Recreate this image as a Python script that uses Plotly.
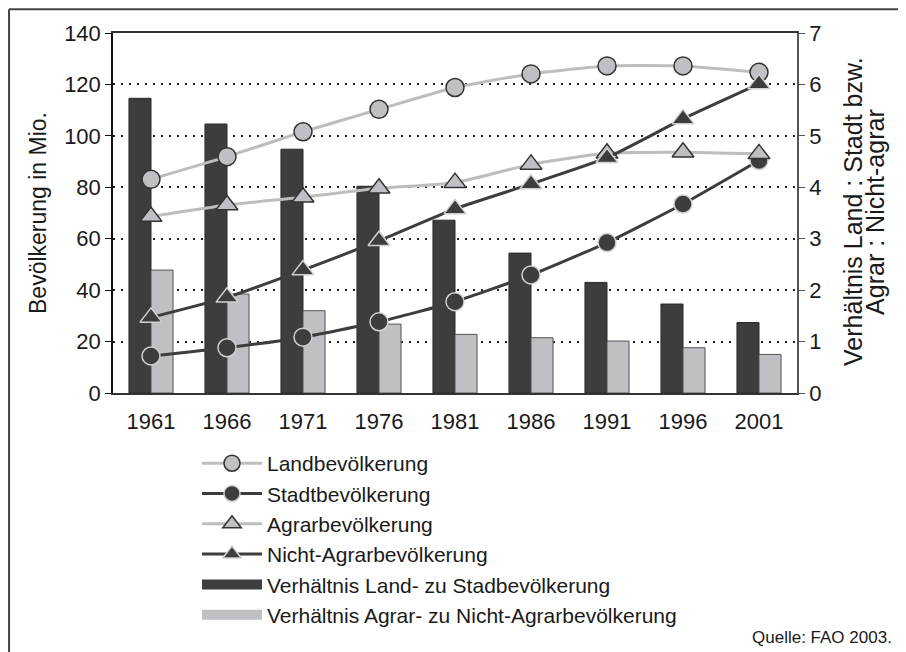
import plotly.graph_objects as go

years = ["1961", "1966", "1971", "1976", "1981", "1986", "1991", "1996", "2001"]

land = [83.1, 91.9, 101.6, 110.3, 118.8, 124.1, 127.2, 127.2, 124.7]
stadt = [14.4, 17.6, 21.7, 27.7, 35.5, 45.9, 58.5, 73.5, 90.4]
agrar = [68.6, 73.1, 76.1, 79.6, 81.8, 88.9, 93.2, 93.6, 93.0]
nicht_agrar = [29.4, 37.2, 47.8, 59.2, 71.6, 81.3, 91.5, 106.6, 120.2]

ratio_land_stadt = [5.73, 5.23, 4.74, 4.02, 3.36, 2.72, 2.15, 1.73, 1.37]
ratio_agrar_nicht = [2.39, 1.925, 1.60, 1.34, 1.14, 1.075, 1.01, 0.88, 0.75]

left_ticks = [0, 20, 40, 60, 80, 100, 120, 140]
right_ticks = [0, 1, 2, 3, 4, 5, 6, 7]

DARK = "#3d3d3d"
LIGHT = "#bfc0c4"
LIGHT_LINE = "#bdbdbd"
FONT = "Liberation Sans, Arial, sans-serif"

fig = go.Figure()

# Bars on the main (right) axis
fig.add_trace(go.Bar(
    x=years, y=ratio_land_stadt, name="Verhältnis Land- zu Stadbevölkerung",
    marker=dict(color=DARK, line=dict(color="#2a2a2a", width=1)),
    yaxis="y", showlegend=False, legendgroup="b1"))
fig.add_trace(go.Bar(
    x=years, y=ratio_agrar_nicht, name="Verhältnis Agrar- zu Nicht-Agrarbevölkerung",
    marker=dict(color=LIGHT, line=dict(color="#555555", width=1)),
    yaxis="y", showlegend=False, legendgroup="b2"))

# Lines on the overlaying (left) axis
fig.add_trace(go.Scatter(
    x=years, y=land, name="Landbevölkerung", mode="lines+markers",
    line=dict(color=LIGHT_LINE, width=3, shape="spline", smoothing=0.5),
    marker=dict(symbol="circle", size=18, color=LIGHT, line=dict(color="#333333", width=1.5)),
    yaxis="y2", legendrank=1))
fig.add_trace(go.Scatter(
    x=years, y=stadt, name="Stadtbevölkerung", mode="lines+markers",
    line=dict(color=DARK, width=3, shape="spline", smoothing=0.5),
    marker=dict(symbol="circle", size=18, color=DARK, line=dict(color="#d0d0d0", width=1.5)),
    yaxis="y2", legendrank=2))
fig.add_trace(go.Scatter(
    x=years, y=agrar, name="Agrarbevölkerung", mode="lines+markers",
    line=dict(color=LIGHT_LINE, width=3, shape="spline", smoothing=0.5),
    marker=dict(symbol="triangle-up", size=19, color=LIGHT, line=dict(color="#333333", width=1.5)),
    yaxis="y2", legendrank=3))
fig.add_trace(go.Scatter(
    x=years, y=nicht_agrar, name="Nicht-Agrarbevölkerung", mode="lines+markers",
    line=dict(color=DARK, width=3, shape="spline", smoothing=0.5),
    marker=dict(symbol="triangle-up", size=19, color=DARK, line=dict(color="#d0d0d0", width=1.5)),
    yaxis="y2", legendrank=4))

# Legend entries for the bars (wide rectangles)
fig.add_trace(go.Scatter(
    x=[None], y=[None], name="Verhältnis Land- zu Stadbevölkerung", mode="lines",
    line=dict(color=DARK, width=15), yaxis="y2", legendgroup="b1", legendrank=5))
fig.add_trace(go.Scatter(
    x=[None], y=[None], name="Verhältnis Agrar- zu Nicht-Agrarbevölkerung", mode="lines",
    line=dict(color=LIGHT, width=15), yaxis="y2", legendgroup="b2", legendrank=6))

fig.update_layout(
    width=898, height=644,
    margin=dict(l=105, r=109, t=25, b=259),
    paper_bgcolor="white", plot_bgcolor="white",
    font=dict(family=FONT, size=22, color="#1a1a1a"),
    barmode="group", bargap=0.42, bargroupgap=0,
    xaxis=dict(
        type="category", range=[-0.5, 8.5], showline=True, linecolor="#333333",
        linewidth=1.5, mirror=True, ticks="", showgrid=False, tickfont=dict(size=22),
        ticklabelstandoff=8),
    yaxis=dict(
        side="right", range=[0, 7], tickvals=right_ticks, showline=True,
        linecolor="#555555", linewidth=1.5, ticks="outside", ticklen=6,
        tickcolor="#555555", showgrid=True, gridcolor="#222222", gridwidth=1.5,
        griddash="2px,6px", zeroline=False, tickfont=dict(size=22)),
    yaxis2=dict(
        overlaying="y", side="left", range=[0, 140], tickvals=left_ticks,
        showline=True, linecolor="#111111", linewidth=1.5, ticks="outside",
        ticklen=6, tickcolor="#111111", showgrid=False, zeroline=False,
        tickfont=dict(size=22),
        title=dict(text="Bevölkerung in Mio.", font=dict(size=23), standoff=11)),
    legend=dict(
        x=0.1228, y=-0.139, xanchor="left", yanchor="top",
        font=dict(size=21), itemwidth=60, tracegroupgap=0,
        bgcolor="rgba(0,0,0,0)"),
    shapes=[
        dict(type="line", xref="paper", yref="paper",
             x0=-0.152, x1=-0.152, y0=1.066, y1=-0.8, line=dict(color="#444444", width=2)),
        dict(type="line", xref="paper", yref="paper",
             x0=-0.152, x1=1.2, y0=1.066, y1=1.066, line=dict(color="#444444", width=2)),
    ],
    annotations=[
        dict(text="Verhältnis Land : Stadt bzw.", xref="paper", yref="paper",
             x=1.0819, y=0.503, xanchor="center", yanchor="middle", textangle=-90,
             showarrow=False, font=dict(size=25, color="#1a1a1a")),
        dict(text="Agrar : Nicht-agrar", xref="paper", yref="paper",
             x=1.114, y=0.503, xanchor="center", yanchor="middle", textangle=-90,
             showarrow=False, font=dict(size=25, color="#1a1a1a")),
        dict(text="Quelle: FAO 2003.", xref="paper", yref="paper",
             x=1.1418, y=-0.6778, xanchor="right", yanchor="middle",
             showarrow=False, font=dict(size=17, color="#1a1a1a")),
    ],
)

fig.write_html("out.html")
